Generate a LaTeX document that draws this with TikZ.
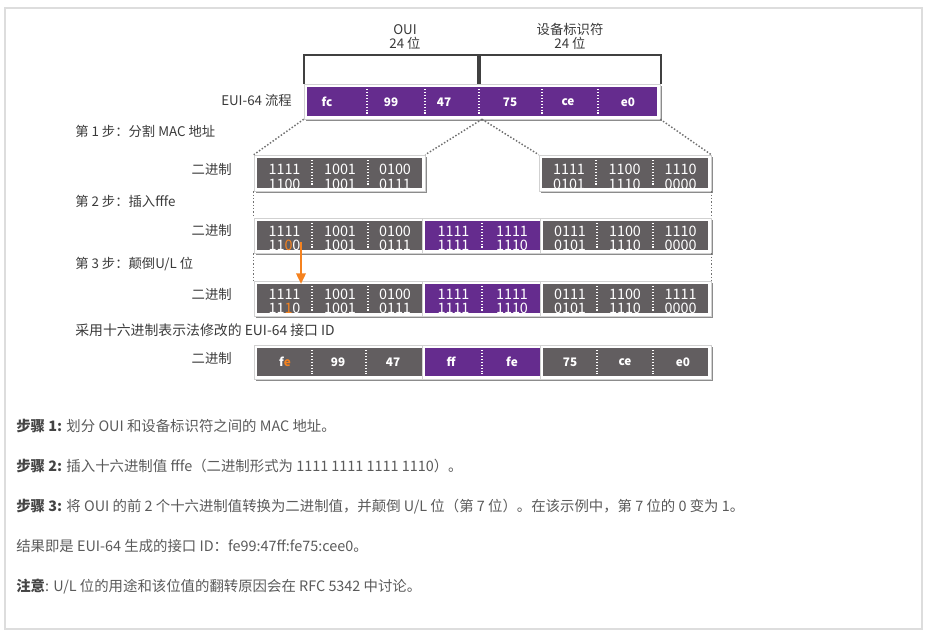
\documentclass[tikz,border=0pt]{standalone}
\usepackage{fontspec}
\setmainfont{Noto Sans CJK SC}
\usetikzlibrary{fit,arrows.meta}
\definecolor{cpurple}{HTML}{652C8E}
\definecolor{cgray}{HTML}{625E60}
\definecolor{corange}{HTML}{F5821F}
\definecolor{ctext}{HTML}{3A3A3A}
\definecolor{cbody}{HTML}{5A5A5A}
\definecolor{cbold}{HTML}{444444}
\definecolor{cborder}{HTML}{DDDDDD}
\definecolor{cdot}{HTML}{707070}
\newcommand\fsz[1]{\fontsize{#1}{#1}\selectfont}
\newcommand\mkbox[6]{%
  \fill[shadowbox] (#2-1,#3-1) rectangle (#4+4.5,#5+4.5);
  \node[framebox, fit={(#2-3,#3-3)(#4+3,#5+3)}] (#1) {};
  \node[innerbox, fill=#6, fit={(#2,#3)(#4,#5)}] (#1-in) {};
}
\newcommand\bcell[5]{%
  \node[bin] (#1u) at (#2,#3+15) {#4};
  \node[bin] (#1d) at (#2,#3+29.5) {#5};
}
\tikzset{
  framebox/.style={inner sep=0, fill=white, draw=black!18, line width=0.4pt},
  shadowbox/.style={fill=black!45},
  innerbox/.style={inner sep=0},
  divider/.style={draw=white, line width=1.1pt, dash pattern=on 1.1pt off 1.1pt},
  conn/.style={draw=cdot, line width=1.1pt, dash pattern=on 1.1pt off 1.4pt},
  bin/.style={text=white, font=\fsz{10.8pt}, inner sep=0, anchor=base},
  hex/.style={text=white, font=\fsz{8.8pt}\bfseries, inner sep=0},
  lbl/.style={text=ctext, font=\fsz{10pt}, inner sep=0},
  body/.style={text=cbody, font=\fsz{10.8pt}, inner sep=0, anchor=base west},
  brack/.style={draw=black!75, line width=0.8pt},
}
\begin{document}
\begin{tikzpicture}[x=0.75pt, y=-0.75pt]
\useasboundingbox (0,0) rectangle (935,639);
\draw[cborder, line width=0.8pt] (5,8) rectangle (922,629);

% top labels and brackets
\node[lbl, anchor=base] (oui) at (405,34) {OUI};
\node[lbl, anchor=base] (ouib) at (405,48) {24 位};
\node[lbl, anchor=base] (dev) at (570,34) {设备标识符};
\node[lbl, anchor=base] (devb) at (570,48) {24 位};
\draw[brack] (304,84) -- (304,55) -- (478,55) -- (478,84);
\draw[brack] (480,84) -- (480,55) -- (661,55) -- (661,84);

% EUI-64 row
\node[lbl, anchor=base east] (euil) at (292,105) {EUI-64 流程};
\mkbox{eui}{307}{87}{657}{116}{cpurple}
\foreach \x in {367,425,479,542,598} \draw[divider] (\x,89) -- (\x,114);
\foreach \x/\t/\n in {327/fc/a,391/99/b,444/47/c,510/75/d,568/ce/e,628/e0/f}
  \node[hex] (eh\n) at (\x,102) {\t};

% step 1
\node[lbl, anchor=base west] (st1) at (75,136) {第 1 步：分割 MAC 地址};
\node[lbl, anchor=base east] (bn1) at (232,174) {二进制};
\mkbox{s1a}{257}{158}{422}{188}{cgray}
\mkbox{s1b}{542}{158}{708}{188}{cgray}
\foreach \x in {312,368,596,653} \draw[divider] (\x,160) -- (\x,186);
\begin{scope}
  \clip (257,158) rectangle (708,188);
  \node[bin] (a1u) at (284.5,174) {1111}; \node[bin] (a1d) at (284.5,189.5) {1100};
  \node[bin] (a2u) at (340,174) {1001}; \node[bin] (a2d) at (340,189.5) {1001};
  \node[bin] (a3u) at (395,174) {0100}; \node[bin] (a3d) at (395,189.5) {0111};
  \node[bin] (a4u) at (569,174) {1111}; \node[bin] (a4d) at (569,189.5) {0101};
  \node[bin] (a5u) at (624.5,174) {1100}; \node[bin] (a5d) at (624.5,189.5) {1110};
  \node[bin] (a6u) at (680.5,174) {1110}; \node[bin] (a6d) at (680.5,189.5) {0000};
\end{scope}
\draw[conn] (eui.south west) -- (s1a.north west);
\draw[conn] (eui.south) -- (s1a.north east);
\draw[conn] (eui.south) -- (s1b.north west);
\draw[conn] (eui.south east) -- (s1b.north east);

% step 2
\node[lbl, anchor=base west] (st2) at (75,206) {第 2 步：插入fffe};
\node[lbl, anchor=base east] (bn2) at (232,235) {二进制};
\mkbox{s2a}{257}{221}{422}{250}{cgray}
\mkbox{s2b}{425}{221}{542}{250}{cpurple}
\mkbox{s2c}{543}{221}{708}{250}{cgray}
\foreach \x in {312,368,482,597,653} \draw[divider] (\x,223) -- (\x,248);
\begin{scope}
  \clip (257,221) rectangle (708,250);
  \bcell{b1}{284.5}{221}{1111}{11\textcolor{corange}{0}0}
  \bcell{b2}{340}{221}{1001}{1001}
  \bcell{b3}{395}{221}{0100}{0111}
  \bcell{b4}{453.5}{221}{1111}{1111}
  \bcell{b5}{512}{221}{1111}{1110}
  \bcell{b6}{570}{221}{0111}{0101}
  \bcell{b7}{625}{221}{1100}{1110}
  \bcell{b8}{680.5}{221}{1110}{0000}
\end{scope}
\draw[conn] (s1a.south west) -- (s2a.north west);
\draw[conn] (s1b.south east) -- (s2c.north east);

% step 3
\node[lbl, anchor=base west] (st3) at (75,268) {第 3 步：颠倒U/L 位};
\node[lbl, anchor=base east] (bn3) at (232,299) {二进制};
\mkbox{s3a}{257}{284}{422}{313}{cgray}
\mkbox{s3b}{425}{284}{542}{313}{cpurple}
\mkbox{s3c}{543}{284}{708}{313}{cgray}
\foreach \x in {312,368,482,597,653} \draw[divider] (\x,286) -- (\x,311);
\begin{scope}
  \clip (257,284) rectangle (708,313);
  \bcell{c1}{284.5}{284}{1111}{11\textcolor{corange}{1}0}
  \bcell{c2}{340}{284}{1001}{1001}
  \bcell{c3}{395}{284}{0100}{0111}
  \bcell{c4}{453.5}{284}{1111}{1111}
  \bcell{c5}{512}{284}{1111}{1110}
  \bcell{c6}{570}{284}{0111}{0101}
  \bcell{c7}{625}{284}{1100}{1110}
  \bcell{c8}{680.5}{284}{1111}{0000}
\end{scope}
\draw[conn] (s2a.south west) -- (s3a.north west);
\draw[conn] (s2c.south east) -- (s3c.north east);

% orange arrow
\coordinate (arS) at (301,242);
\coordinate (arE) at (301,284);
\draw[corange, line width=1.8pt, -{Triangle[length=8pt, width=7pt]}] (arS) -- (arE);

% hex row
\node[lbl, anchor=base west, font=\fsz{10.4pt}] (st4) at (75,335) {采用十六进制表示法修改的 EUI-64 接口 ID};
\node[lbl, anchor=base east] (bn4) at (232,363) {二进制};
\mkbox{h1}{257}{348}{422}{376}{cgray}
\mkbox{h2}{425}{348}{542}{376}{cpurple}
\mkbox{h3}{543}{348}{708}{376}{cgray}
\foreach \x in {312,366,482,597,653} \draw[divider] (\x,350) -- (\x,374);
\foreach \x/\t/\n in {285/f\textcolor{corange}{e}/a,338/99/b,393/47/c,451/ff/d,512/fe/e,570/75/f,625/ce/g,683/e0/h}
  \node[hex] (hx\n) at (\x,362) {\t};

% explanatory text
\node[body] (l1) at (16,431) {\textcolor{cbold}{\textbf{步骤 1:}} 划分 OUI 和设备标识符之间的 MAC 地址。};
\node[body] (l2) at (16,471) {\textcolor{cbold}{\textbf{步骤 2:}} 插入十六进制值 fffe（二进制形式为 1111 1111 1111 1110）。};
\node[body] (l3) at (16,511) {\textcolor{cbold}{\textbf{步骤 3:}} 将 OUI 的前 2 个十六进制值转换为二进制值，并颠倒 U/L 位（第 7 位）。在该示例中，第 7 位的 0 变为 1。};
\node[body] (l4) at (16,551) {结果即是 EUI-64 生成的接口 ID：fe99:47ff:fe75:cee0。};
\node[body] (l5) at (16,591) {\textcolor{cbold}{\textbf{注意}}: U/L 位的用途和该位值的翻转原因会在 RFC 5342 中讨论。};
\end{tikzpicture}
\end{document}
